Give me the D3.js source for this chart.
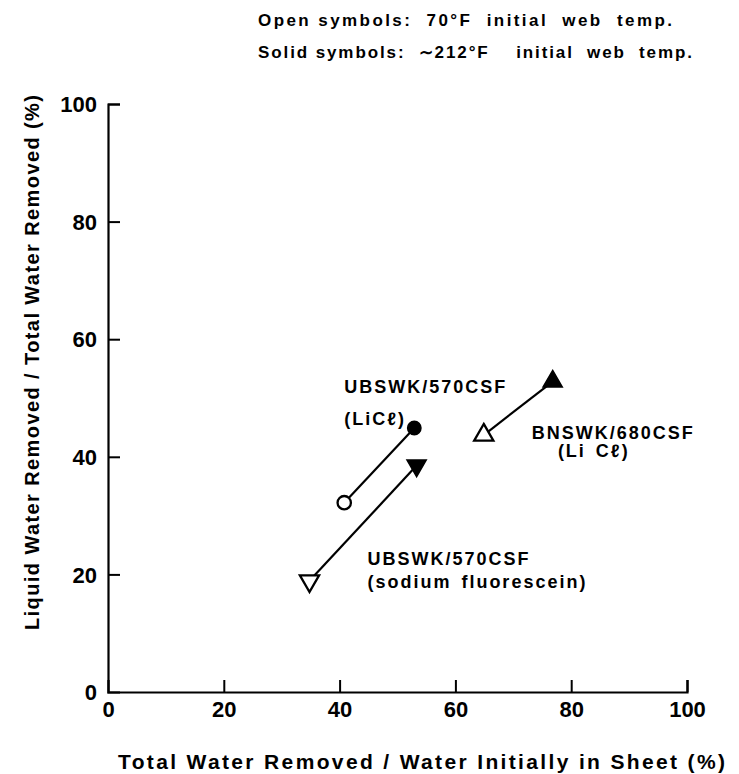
<!DOCTYPE html>
<html><head><meta charset="utf-8">
<script src="https://cdn.jsdelivr.net/npm/d3@7"></script>
<style>
body{margin:0;background:#fff;}
text{font-family:"Liberation Sans",Arial,sans-serif;font-weight:bold;fill:#000;}
</style></head>
<body><svg id="c" width="739" height="774"></svg>
<script>
const seriesNames = ["UBSWK/570CSF (LiCℓ)", "UBSWK/570CSF (sodium fluorescein)", "BNSWK/680CSF (LiCℓ)"];
const symbolTypes = ["circle", "triangle-down", "triangle"];
const openX = [40.8, 34.8, 64.9];
const openY = [32.2, 18.9, 43.7];
const solidX = [52.9, 53.3, 76.8];
const solidY = [44.9, 38.5, 52.8];
const xTicks = [0, 20, 40, 60, 80, 100];
const yTicks = [0, 20, 40, 60, 80, 100];
const labelTexts = ["UBSWK/570CSF", "(LiCℓ)", "BNSWK/680CSF", "(Li Cℓ)", "UBSWK/570CSF", "(sodium fluorescein)"];
const labelAtX = [40.8, 40.8, 73.2, 77.7, 44.8, 44.8];
const labelAtY = [50.9, 45.4, 43.1, 40.0, 21.6, 17.7];
const noteLines = ["Open symbols:  70°F  initial  web  temp.", "Solid symbols:  ∼212°F    initial  web  temp."];
const xTitle = "Total Water Removed / Water Initially in Sheet (%)";
const yTitle = "Liquid Water Removed / Total Water Removed (%)";

const svg = d3.select("#c");
const x = d3.scaleLinear().domain([0, 100]).range([108, 687]);
const y = d3.scaleLinear().domain([0, 100]).range([692, 104]);

const xAxis = d3.axisBottom(x).tickValues(xTicks).tickSize(-12).tickPadding(9).tickFormat(d3.format("d"));
const yAxis = d3.axisLeft(y).tickValues(yTicks).tickSize(-12).tickPadding(11).tickFormat(d3.format("d"));
const gx = svg.append("g").attr("transform", `translate(0,${y(0)})`).call(xAxis);
const gy = svg.append("g").attr("transform", `translate(${x(0)},0)`).call(yAxis);
[gx, gy].forEach(g => {
  g.select(".domain").attr("stroke", "#000").attr("stroke-width", 2.2);
  g.selectAll(".tick line").attr("stroke", "#000").attr("stroke-width", 2);
  g.selectAll(".tick text").style("font-size", "22px").style("font-family", "Liberation Sans, Arial, sans-serif").style("font-weight", "bold").attr("fill", "#000");
});
gx.selectAll(".tick").filter(d => d === 0).select("line").remove();
gy.selectAll(".tick").filter(d => d === 0).select("line").remove();
gy.selectAll(".tick text").attr("dy", "0.35em");

// axis titles
svg.append("text").attr("x", 118).attr("y", 769)
  .attr("textLength", 607).attr("lengthAdjust", "spacing")
  .style("font-size", "21px").text(xTitle);
svg.append("text").attr("transform", "translate(39,630) rotate(-90)")
  .attr("textLength", 535).attr("lengthAdjust", "spacing")
  .style("font-size", "20px").text(yTitle);

// notes
svg.append("text").attr("x", 258).attr("y", 26).attr("textLength", 414).attr("lengthAdjust", "spacing")
  .style("font-size", "17px").attr("xml:space", "preserve").text(noteLines[0]);
svg.append("text").attr("x", 258).attr("y", 58).attr("textLength", 434).attr("lengthAdjust", "spacing")
  .style("font-size", "17px").attr("xml:space", "preserve").text(noteLines[1]);

// connecting lines
const idx = d3.range(seriesNames.length);
svg.append("g").selectAll("line").data(idx).join("line")
  .attr("x1", i => x(openX[i])).attr("y1", i => y(openY[i]))
  .attr("x2", i => x(solidX[i])).attr("y2", i => y(solidY[i]))
  .attr("stroke", "#000").attr("stroke-width", 2.2);

function sym(t) {
  return t === "circle" ? d3.symbol(d3.symbolCircle, 140)() : d3.symbol(d3.symbolTriangle, 160)();
}
function rot(t) { return t === "triangle-down" ? 180 : 0; }

svg.append("g").selectAll("path").data(idx).join("path")
  .attr("d", i => sym(symbolTypes[i]))
  .attr("transform", i => `translate(${x(openX[i])},${y(openY[i])}) rotate(${rot(symbolTypes[i])})`)
  .attr("fill", "#fff").attr("stroke", "#000").attr("stroke-width", 2.3);
svg.append("g").selectAll("path").data(idx).join("path")
  .attr("d", i => sym(symbolTypes[i]))
  .attr("transform", i => `translate(${x(solidX[i])},${y(solidY[i])}) rotate(${rot(symbolTypes[i])})`)
  .attr("fill", "#000").attr("stroke", "#000").attr("stroke-width", 1.5);

// labels
svg.append("g").selectAll("text").data(labelTexts).join("text")
  .attr("x", (d, i) => x(labelAtX[i])).attr("y", (d, i) => y(labelAtY[i]))
  .style("font-size", "18px").style("letter-spacing", "2px").style("word-spacing", "3px").attr("xml:space", "preserve")
  .text(d => d);
</script></body></html>
